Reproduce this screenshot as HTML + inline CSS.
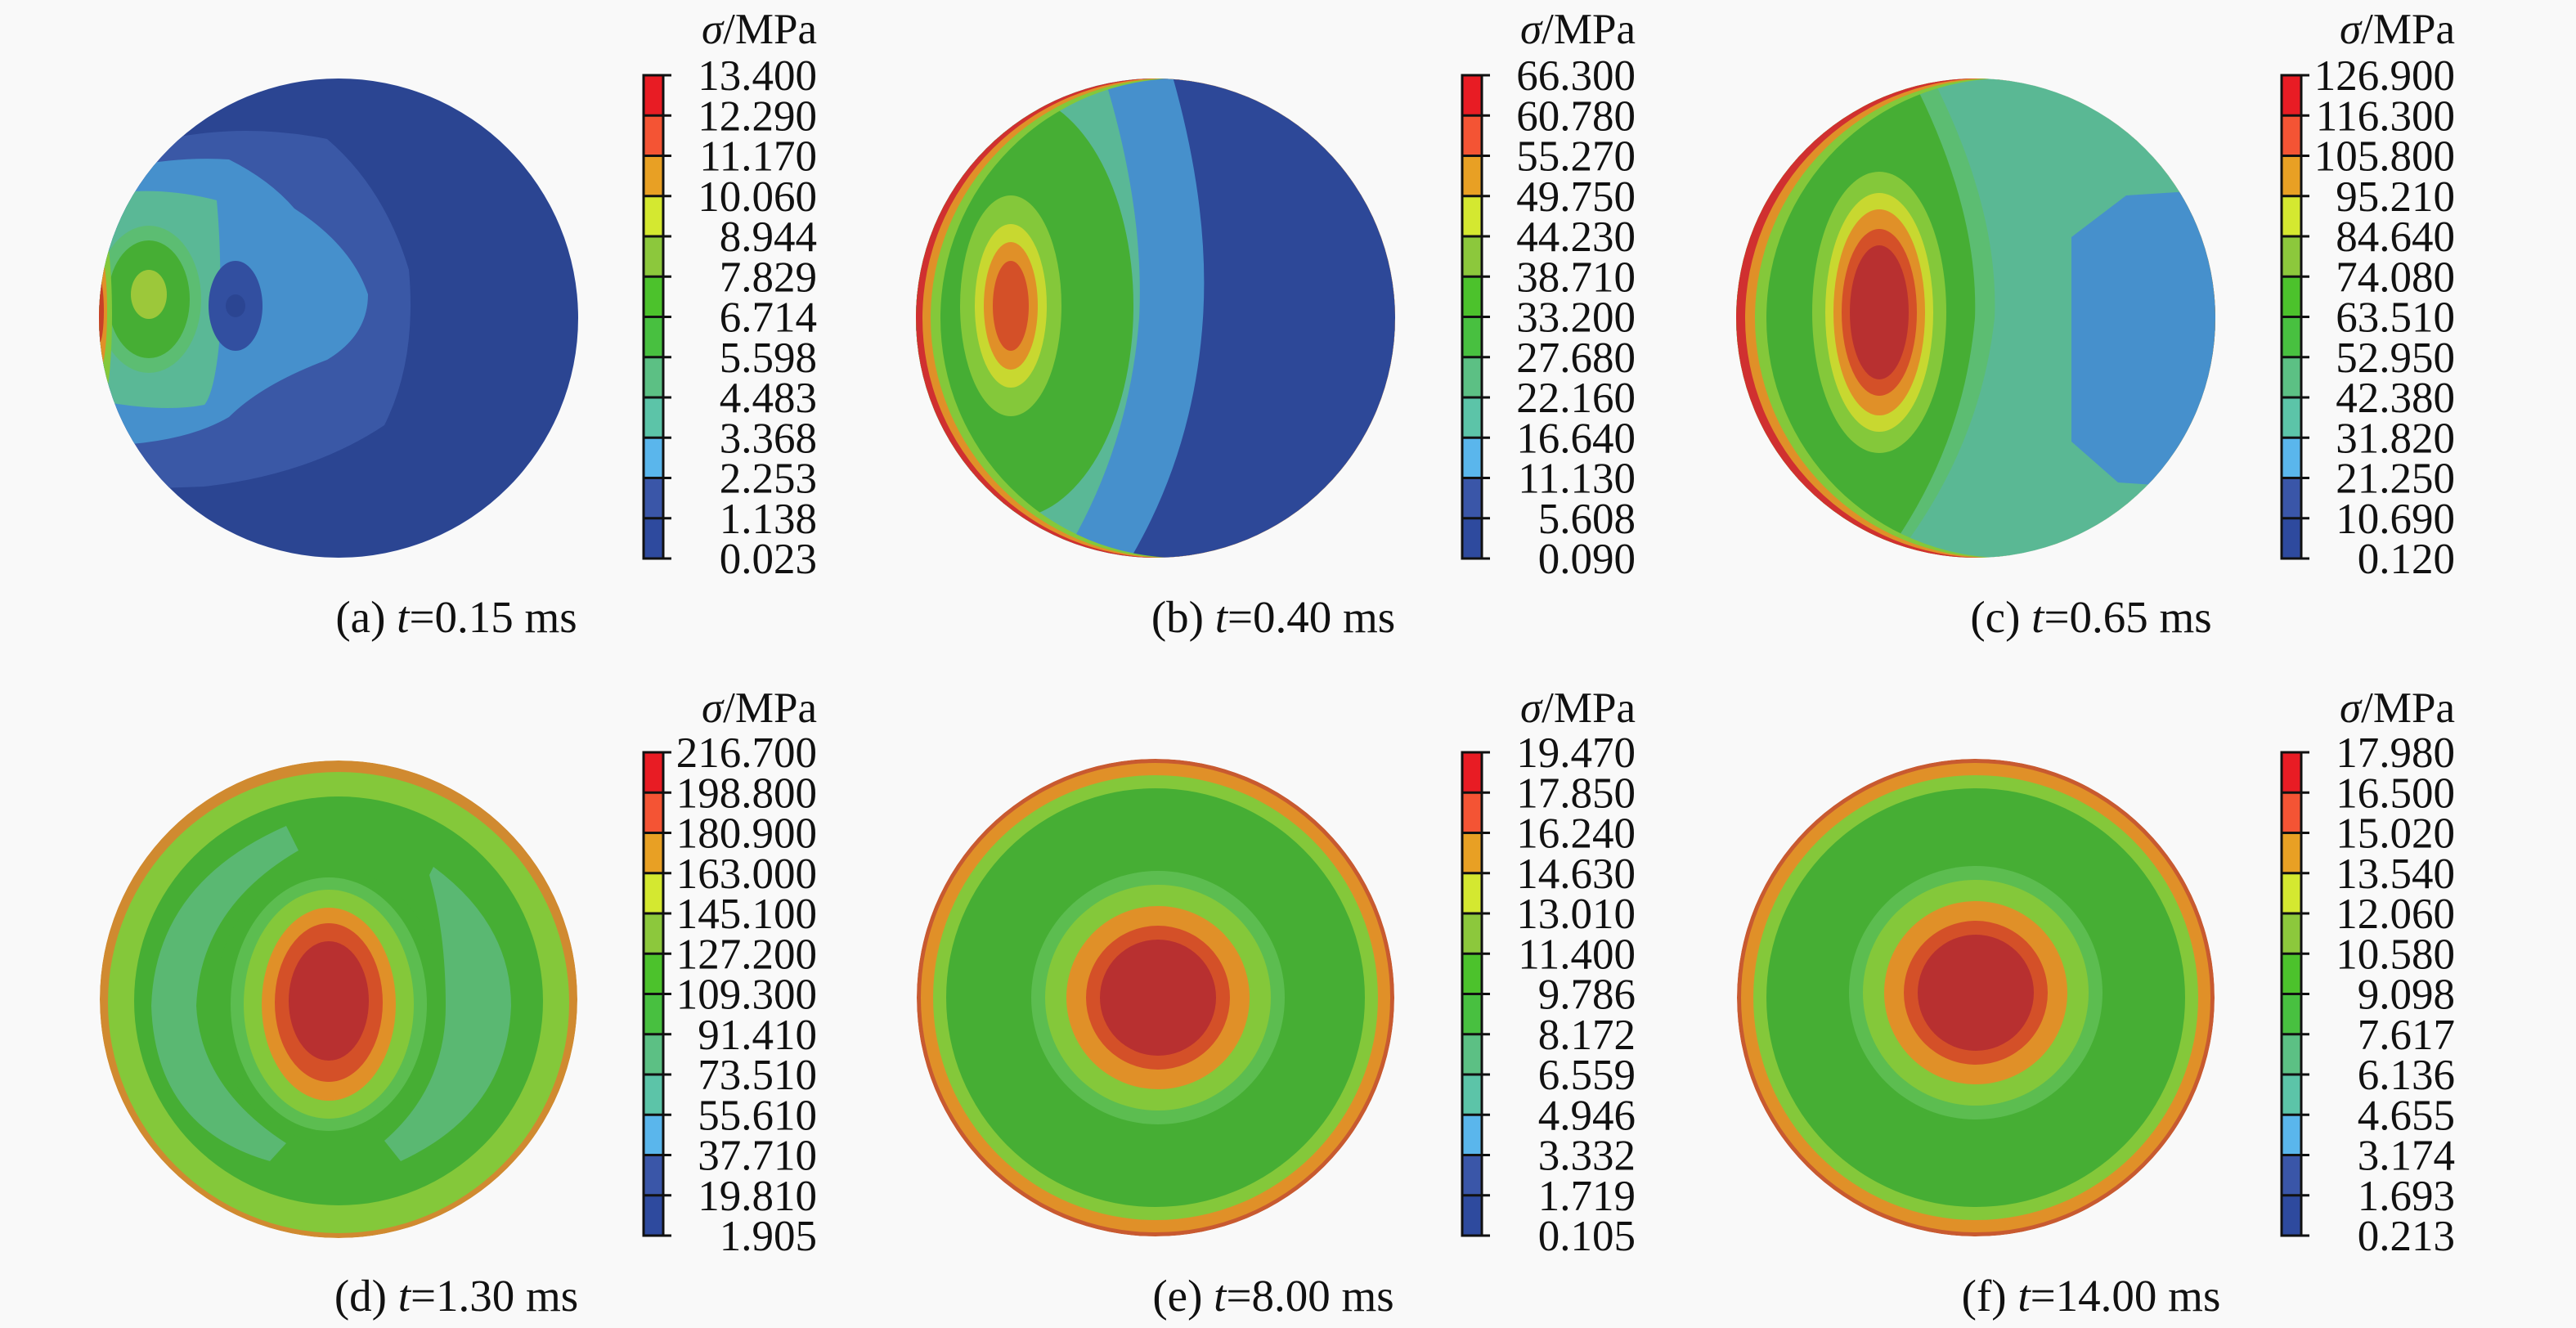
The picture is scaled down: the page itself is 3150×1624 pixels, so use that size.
<!DOCTYPE html>
<html><head><meta charset="utf-8"><style>
html,body{margin:0;padding:0;background:#f9f9f9;}
svg{display:block;}
svg text{font-family:"Liberation Serif","Times New Roman",serif;fill:#111;}
</style></head><body>
<svg id="fig" width="3150" height="1624" viewBox="0 0 3150 1624" xmlns="http://www.w3.org/2000/svg" font-family="Liberation Serif, serif">
<rect width="3150" height="1624" fill="#f9f9f9"/>
<defs>
<clipPath id="ca"><circle cx="414" cy="389" r="293"/></clipPath>
<clipPath id="cb"><circle cx="1413" cy="389" r="293"/></clipPath>
<clipPath id="cc"><circle cx="2416" cy="389" r="293"/></clipPath>
<clipPath id="cd"><circle cx="414" cy="1222" r="292"/></clipPath>
<clipPath id="ce"><circle cx="1413" cy="1220" r="292"/></clipPath>
<clipPath id="cf"><circle cx="2416" cy="1220" r="292"/></clipPath>
</defs>

<!-- (a) -->
<g clip-path="url(#ca)">
<rect x="100" y="80" width="640" height="640" fill="#2b4592"/>
<path d="M110 200 Q250 140 400 170 Q470 230 500 330 Q510 440 470 520 Q380 580 250 595 L110 600 Z" fill="#3a58a6"/>
<path d="M110 215 Q200 190 280 195 Q330 220 360 255 Q430 300 450 360 Q450 410 400 440 Q320 470 280 510 Q220 545 110 545 Z" fill="#4690cc"/>
<path d="M110 240 Q190 225 265 245 Q272 320 268 420 Q262 480 250 495 Q200 505 120 490 Z" fill="#5ab896"/>
<ellipse cx="182" cy="366" rx="64" ry="90" fill="#5cbd72"/>
<ellipse cx="182" cy="366" rx="50" ry="72" fill="#46ae34"/>
<ellipse cx="182" cy="360" rx="22" ry="30" fill="#9cc83a"/>
<ellipse cx="288" cy="374" rx="33" ry="55" fill="#324fa0"/>
<ellipse cx="288" cy="374" rx="12" ry="14" fill="#2b4592"/>
<ellipse cx="121" cy="385" rx="16" ry="120" fill="#84c83a"/>
<ellipse cx="121" cy="380" rx="10" ry="75" fill="#e09028"/>
<ellipse cx="121" cy="380" rx="6" ry="40" fill="#c84028"/>
</g>

<!-- (b) -->
<g clip-path="url(#cb)">
<rect x="1100" y="80" width="640" height="640" fill="#2d4898"/>
<path d="M1100 80 L1430 80 Q1480 250 1471 389 Q1460 560 1372 700 L1100 700 Z" fill="#4690cc"/>
<path d="M1100 80 L1346 80 Q1400 250 1393 389 Q1380 560 1288 700 L1100 700 Z" fill="#5ab896"/>
<path d="M1100 80 L1257 80 Q1315 250 1309 389 Q1300 560 1205 700 L1100 700 Z" fill="#5cbd72"/>
<ellipse cx="1236" cy="374" rx="150" ry="260" fill="#46ae34"/>
<ellipse cx="1236" cy="374" rx="62" ry="135" fill="#84c83a"/>
<ellipse cx="1236" cy="374" rx="44" ry="100" fill="#c8d830"/>
<ellipse cx="1236" cy="374" rx="33" ry="78" fill="#e09028"/>
<ellipse cx="1236" cy="374" rx="22" ry="55" fill="#d45028"/>
<path fill-rule="evenodd" fill="#84c83a" d="M1120 389 a293 293 0 1 0 586 0 a293 293 0 1 0 -586 0 Z M1150 389 a293 293 0 1 0 586 0 a293 293 0 1 0 -586 0 Z"/>
<path fill-rule="evenodd" fill="#e09028" d="M1120 389 a293 293 0 1 0 586 0 a293 293 0 1 0 -586 0 Z M1138 389 a293 293 0 1 0 586 0 a293 293 0 1 0 -586 0 Z"/>
<path fill-rule="evenodd" fill="#d03030" d="M1120 389 a293 293 0 1 0 586 0 a293 293 0 1 0 -586 0 Z M1128 389 a293 293 0 1 0 586 0 a293 293 0 1 0 -586 0 Z"/>
</g>

<!-- (c) -->
<g clip-path="url(#cc)">
<rect x="2100" y="80" width="640" height="640" fill="#5ab894"/>
<path d="M2533 290 L2600 239 L2740 230 L2740 600 L2590 590 L2533 540 Z" fill="#4690cc"/>
<path d="M2100 80 L2355 80 Q2445 250 2439 389 Q2420 560 2303 700 L2100 700 Z" fill="#5cbd72"/>
<path d="M2100 80 L2330 80 Q2420 250 2415 389 Q2400 560 2290 700 L2100 700 Z" fill="#46ae34"/>
<ellipse cx="2298" cy="382" rx="82" ry="172" fill="#84c83a"/>
<ellipse cx="2298" cy="382" rx="66" ry="146" fill="#c8d830"/>
<ellipse cx="2298" cy="382" rx="56" ry="126" fill="#e09028"/>
<ellipse cx="2298" cy="382" rx="46" ry="102" fill="#d45028"/>
<ellipse cx="2298" cy="382" rx="36" ry="82" fill="#b83030"/>
<path fill-rule="evenodd" fill="#84c83a" d="M2123 389 a293 293 0 1 0 586 0 a293 293 0 1 0 -586 0 Z M2160 389 a293 293 0 1 0 586 0 a293 293 0 1 0 -586 0 Z"/>
<path fill-rule="evenodd" fill="#e09028" d="M2123 389 a293 293 0 1 0 586 0 a293 293 0 1 0 -586 0 Z M2146 389 a293 293 0 1 0 586 0 a293 293 0 1 0 -586 0 Z"/>
<path fill-rule="evenodd" fill="#d03030" d="M2123 389 a293 293 0 1 0 586 0 a293 293 0 1 0 -586 0 Z M2134 389 a293 293 0 1 0 586 0 a293 293 0 1 0 -586 0 Z"/>
</g>

<!-- (d) -->
<g clip-path="url(#cd)">
<circle cx="414" cy="1222" r="292" fill="#d08a30"/>
<circle cx="414" cy="1226" r="282" fill="#84c83a"/>
<circle cx="414" cy="1224" r="250" fill="#46ae34"/>
<path d="M350 1010 Q190 1080 185 1230 Q190 1380 330 1420 L350 1398 Q245 1330 240 1230 Q245 1110 365 1040 Z" fill="#5ab872"/>
<path d="M530 1060 Q625 1130 625 1230 Q620 1360 490 1420 L470 1395 Q545 1330 545 1230 Q545 1140 525 1070 Z" fill="#5ab872"/>
<ellipse cx="402" cy="1228" rx="140" ry="168" fill="#46ae34"/>
<ellipse cx="402" cy="1228" rx="120" ry="155" fill="#5cbd50"/>
<ellipse cx="402" cy="1228" rx="104" ry="140" fill="#84c83a"/>
<ellipse cx="402" cy="1228" rx="82" ry="118" fill="#e09028"/>
<ellipse cx="402" cy="1226" rx="66" ry="97" fill="#d45028"/>
<ellipse cx="402" cy="1224" rx="49" ry="73" fill="#b83030"/>
</g>

<!-- (e) -->
<g clip-path="url(#ce)">
<circle cx="1413" cy="1220" r="292" fill="#c85a30"/>
<circle cx="1413" cy="1220" r="287" fill="#e09028"/>
<circle cx="1413" cy="1220" r="272" fill="#84c83a"/>
<circle cx="1413" cy="1220" r="256" fill="#46ae34"/>
<circle cx="1416" cy="1220" r="155" fill="#5cbd50"/>
<circle cx="1416" cy="1220" r="138" fill="#84c83a"/>
<circle cx="1416" cy="1220" r="112" fill="#e09028"/>
<circle cx="1416" cy="1220" r="88" fill="#d45028"/>
<circle cx="1416" cy="1220" r="71" fill="#b83030"/>
</g>

<!-- (f) -->
<g clip-path="url(#cf)">
<circle cx="2416" cy="1220" r="292" fill="#c85a30"/>
<circle cx="2416" cy="1220" r="287" fill="#e09028"/>
<circle cx="2416" cy="1220" r="272" fill="#84c83a"/>
<circle cx="2416" cy="1220" r="256" fill="#46ae34"/>
<circle cx="2416" cy="1214" r="155" fill="#5cbd50"/>
<circle cx="2416" cy="1214" r="138" fill="#84c83a"/>
<circle cx="2416" cy="1214" r="112" fill="#e09028"/>
<circle cx="2416" cy="1214" r="88" fill="#d45028"/>
<circle cx="2416" cy="1214" r="71" fill="#b83030"/>
</g>
<g id="bars"></g>
</svg>
<script>
const titles = ["(a) ","(b) ","(c) ","(d) ","(e) ","(f) "];
const times = ["0.15","0.40","0.65","1.30","8.00","14.00"];
const labelsA = ["13.400","12.290","11.170","10.060","8.944","7.829","6.714","5.598","4.483","3.368","2.253","1.138","0.023"];
const labelsB = ["66.300","60.780","55.270","49.750","44.230","38.710","33.200","27.680","22.160","16.640","11.130","5.608","0.090"];
const labelsC = ["126.900","116.300","105.800","95.210","84.640","74.080","63.510","52.950","42.380","31.820","21.250","10.690","0.120"];
const labelsD = ["216.700","198.800","180.900","163.000","145.100","127.200","109.300","91.410","73.510","55.610","37.710","19.810","1.905"];
const labelsE = ["19.470","17.850","16.240","14.630","13.010","11.400","9.786","8.172","6.559","4.946","3.332","1.719","0.105"];
const labelsF = ["17.980","16.500","15.020","13.540","12.060","10.580","9.098","7.617","6.136","4.655","3.174","1.693","0.213"];
const bandColors = ["#e81c24","#f45434","#e8a024","#d4e830","#8cc83c","#4cc22c","#48c040","#5cc084","#5cc4a8","#5ab6ec","#3a56a8","#2e4a9e"];
const allLabels = [labelsA,labelsB,labelsC,labelsD,labelsE,labelsF];
const NS = "http://www.w3.org/2000/svg";
const g = document.getElementById('bars');
const colX = [787,1788,2790], capX = [558,1557,2557];
const rowTop = [92,920], rowBot = [683,1511], capY = [773,1603], titleY = [53,883];
const FF = '"Liberation Serif", "Times New Roman", serif';
function mk(tag, attrs, parent){const e=document.createElementNS(NS,tag);for(const k in attrs)e.setAttribute(k,attrs[k]);parent.appendChild(e);return e;}
allLabels.forEach((labels,p)=>{
  const c=p%3, r=Math.floor(p/3), x=colX[c], top=rowTop[r], bot=rowBot[r];
  const n=labels.length-1, step=(bot-top)/n;
  const bar=mk('g',{},g);
  
  
  bandColors.forEach((col,i)=>{
    const rc=mk('rect',{x:x,y:top+i*step,width:24,height:step,fill:col},bar);
    
    
  });
  mk('rect',{x:x,y:top,width:24,height:bot-top,fill:'none',stroke:'#111','stroke-width':3},bar);
  labels.forEach((lb,i)=>{
    const y=top+i*step;
    const tk=mk('line',{x1:x,x2:x+34,y1:y,y2:y,stroke:'#111','stroke-width':3},bar);
    
    
    const t=mk('text',{x:x+212,y:y+18,'font-size':53,'text-anchor':'end'},bar);
    t.style.fontFamily=FF;
    t.textContent=lb;
    
    
  });
  const tt=mk('text',{x:x+212,y:titleY[r],'font-size':53,'text-anchor':'end'},g);
  tt.style.fontFamily=FF;
  tt.innerHTML='<tspan font-style="italic">σ</tspan>/MPa';
  
  
  const cp=mk('text',{x:capX[c],y:capY[r],'font-size':55,'text-anchor':'middle'},g);
  cp.style.fontFamily=FF;
  cp.innerHTML=titles[p]+'<tspan font-style="italic">t</tspan>='+times[p]+' ms';
  
  
});
</script>
</body></html>
